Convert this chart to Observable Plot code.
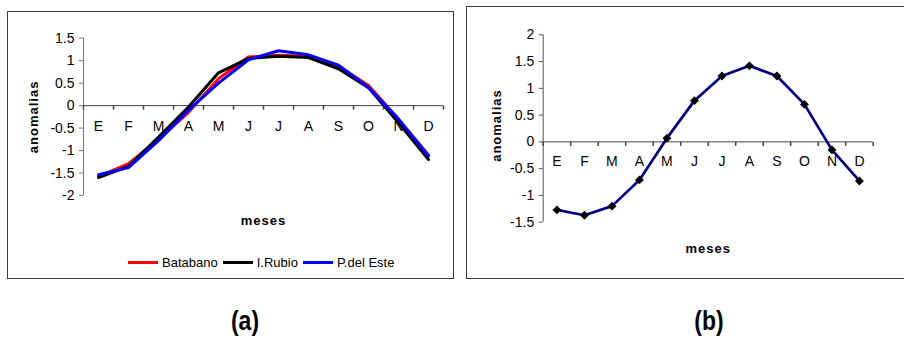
<!DOCTYPE html>
<html><head><meta charset="utf-8">
<script src="https://cdn.jsdelivr.net/npm/d3@7"></script>
<script src="https://cdn.jsdelivr.net/npm/@observablehq/plot@0.6"></script>
<style>
html,body{margin:0;padding:0;background:#fff;overflow:hidden}
#root{position:relative;width:904px;height:337px;overflow:hidden;font-family:"Liberation Sans",Arial,sans-serif;color:#000}
.panel{position:absolute;border:1.5px solid #3a3a3a;box-sizing:border-box}
.chart{position:absolute}
.legend{position:absolute;display:flex;align-items:center;font-size:13px;height:16px}
.legend .item{display:flex;align-items:center;margin-right:5px}
.legend .sw{display:inline-block;width:30px;height:3px;margin-right:4px}
.cap{position:absolute;font-weight:bold;font-size:27px;transform:translate(-50%,-50%) scaleX(0.85);line-height:1}
</style></head><body>
<div id="root">
  <div class="panel" style="left:7px;top:11px;width:447px;height:268px"></div>
  <div class="panel" style="left:466px;top:6px;width:460px;height:273px"></div>
  <div class="chart" id="chartA" style="left:8px;top:12px"></div>
  <div class="chart" id="chartB" style="left:467px;top:7px"></div>
  <div class="legend" id="legendA" style="left:128px;top:254px"></div>
  <div class="cap" style="left:245px;top:321px">(a)</div>
  <div class="cap" style="left:709px;top:321px">(b)</div>
</div>
<script>
// ---- data ----
const months = ["E","F","M","A","M","J","J","A","S","O","N","D"];
const seriesNames = ["Batabano","I.Rubio","P.del Este"];
const seriesColors = ["#ff0000","#000000","#0000ff"];
const batabano = [-1.58,-1.29,-0.75,-0.15,0.60,1.08,1.12,1.10,0.88,0.45,-0.30,-1.10];
const rubio    = [-1.60,-1.35,-0.70,-0.03,0.73,1.05,1.10,1.07,0.82,0.40,-0.38,-1.20];
const pdelEste = [-1.54,-1.38,-0.78,-0.10,0.50,1.02,1.22,1.13,0.90,0.40,-0.30,-1.12];
const yTicksA = [-2,-1.5,-1,-0.5,0,0.5,1,1.5];
const anomaliasB = [-1.27,-1.37,-1.20,-0.71,0.07,0.77,1.23,1.42,1.23,0.70,-0.15,-0.73];
const yTicksB = [-1.5,-1,-0.5,0,0.5,1,1.5,2];
const yLabel = "anomalias";
const xLabel = "meses";

// ---- helpers ----
const font = "Liberation Sans, Arial, sans-serif";
const boundaries = d3.range(months.length + 1);
const tickSym = {draw(ctx){ ctx.moveTo(0,0); ctx.lineTo(0,4); }};
const diamond = d3.symbolDiamond2 || d3.symbolDiamond;
const seriesValues = [batabano, rubio, pdelEste];
const rowsA = seriesNames.flatMap((s,k) => seriesValues[k].map((v,i) => ({series:s, i:i+0.5, v})));
const rowsB = anomaliasB.map((v,i) => ({i:i+0.5, v}));

function commonMarks(yTicks, labelDy, yTitleDx, yTitleDy, xTitleDy, yAxisColor){
  return [
    Plot.axisY({ticks:yTicks, tickSize:4, tickPadding:5, tickFormat:d=>String(d), label:null, stroke:yAxisColor, fontSize:14}),
    Plot.ruleX([0], {stroke:yAxisColor}),
    Plot.ruleY([0], {stroke:"#444"}),
    Plot.dot(boundaries, {x:d=>d, y:()=>0, symbol:tickSym, stroke:"#444", fill:"none", r:2}),
    Plot.text(months, {x:(d,i)=>i+0.5, y:()=>0, text:d=>d, dy:labelDy, fontSize:14, lineAnchor:"middle"}),
    Plot.text([yLabel], {frameAnchor:"left", text:d=>d, rotate:-90, dx:yTitleDx, dy:yTitleDy, textAnchor:"middle", lineAnchor:"middle", fontWeight:"bold", fontSize:13}),
    Plot.text([xLabel], {frameAnchor:"bottom", text:d=>d, dy:xTitleDy, textAnchor:"middle", lineAnchor:"middle", fontWeight:"bold", fontSize:13})
  ];
}

function spaceTitles(svg){
  svg.querySelectorAll("text").forEach(t => {
    if (t.textContent === yLabel || t.textContent === xLabel) t.style.letterSpacing = "1px";
  });
  return svg;
}

const plotA = Plot.plot({
  width:445, height:267, marginLeft:75, marginRight:10, marginTop:25.7, marginBottom:84,
  style:{fontFamily:font, fontSize:"14px", color:"#000", background:"transparent", overflow:"visible"},
  x:{domain:[0,12], axis:null},
  y:{domain:[-2,1.5], axis:null},
  color:{domain:seriesNames, range:seriesColors},
  marks:[
    ...commonMarks(yTicksA, 21, -50, 0, 25, "#777"),
    Plot.line(rowsA, {x:"i", y:"v", stroke:"series", z:"series", strokeWidth:3})
  ]
});
document.getElementById("chartA").appendChild(spaceTitles(plotA));

const plotB = Plot.plot({
  width:437, height:272, marginLeft:75.7, marginRight:31.3, marginTop:27.3, marginBottom:57.3,
  style:{fontFamily:font, fontSize:"14px", color:"#000", background:"transparent", overflow:"visible"},
  x:{domain:[0,12], axis:null},
  y:{domain:[-1.5,2], axis:null},
  marks:[
    ...commonMarks(yTicksB, 20, -46, -3, 26.3, "#555"),
    Plot.line(rowsB, {x:"i", y:"v", stroke:"#000080", strokeWidth:2.7}),
    Plot.dot(rowsB, {x:"i", y:"v", symbol:diamond, fill:"#000", r:4})
  ]
});
document.getElementById("chartB").appendChild(spaceTitles(plotB));

// legend
const leg = document.getElementById("legendA");
seriesNames.forEach((s,k) => {
  const it = document.createElement("span"); it.className = "item";
  const sw = document.createElement("span"); sw.className = "sw"; sw.style.background = seriesColors[k];
  const tx = document.createElement("span"); tx.textContent = s;
  it.appendChild(sw); it.appendChild(tx); leg.appendChild(it);
});
</script>
</body></html>
